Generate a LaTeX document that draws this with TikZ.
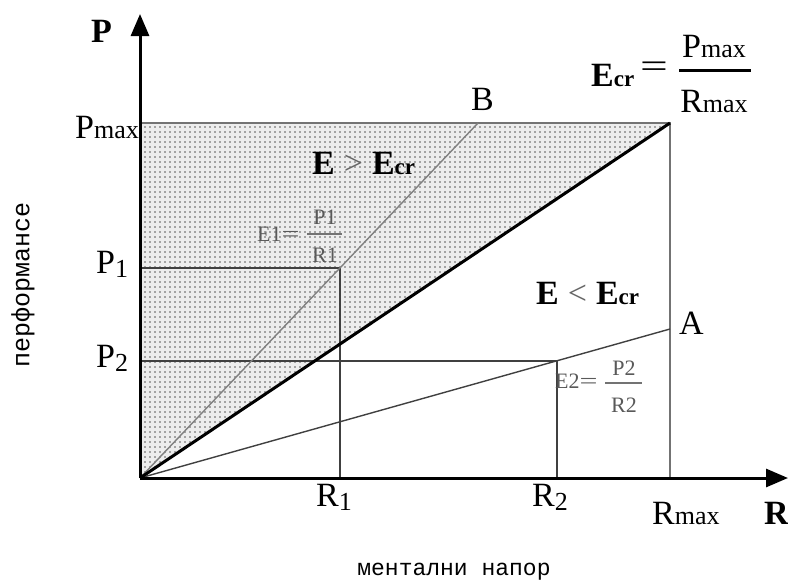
\documentclass[tikz,border=0pt]{standalone}
\usepackage{fontspec}
\setmainfont{Liberation Serif}
\newfontfamily\cyrmono{Liberation Mono}
\usetikzlibrary{patterns.meta,arrows.meta}
\newcommand\sbs[1]{{\fontsize{26}{26}\selectfont #1}}
\newcommand\sbc[1]{{\fontsize{23}{23}\selectfont #1}}
\newcommand\sbl[1]{\raisebox{-4pt}{\fontsize{26}{26}\selectfont #1}}
\newcommand\weq{\scalebox{1.45}[1]{=}}
\begin{document}
\begin{tikzpicture}[x=1pt,y=-1pt,
 lbl/.style={inner sep=0pt, font=\fontsize{34}{34}\selectfont},
 bl/.style={inner sep=0pt, font=\fontsize{34}{34}\selectfont\bfseries},
 fr/.style={inner sep=0pt, text=black!65, font=\fontsize{22}{22}\selectfont},
 cyr/.style={inner sep=0pt, font=\cyrmono\fontsize{23}{23}\selectfont},
 axis/.style={line width=3pt, -{Triangle[length=22pt,width=18pt]}},
 thinln/.style={line width=1.4pt, black!75},
 lightln/.style={line width=1.4pt, black!50},
 boxln/.style={line width=1.8pt, black!55},
 barln/.style={line width=1.4pt, black!55},
]
\useasboundingbox (0,0) rectangle (788,582);
\coordinate (O) at (140,478);
\coordinate (Ytop) at (140,14);
\coordinate (Xend) at (788,478);
\coordinate (TL) at (140,123);
\coordinate (TR) at (670,123);
\coordinate (BR) at (670,478);
\coordinate (E1) at (340,268);
\coordinate (E2) at (557,361);
\coordinate (P1) at (140,268);
\coordinate (P2) at (140,361);
\coordinate (R1) at (340,478);
\coordinate (R2) at (557,478);
\coordinate (A) at (670,329);
\coordinate (B) at (478,123);
% shaded region
\fill[gray!14] (O) -- (TL) -- (TR) -- cycle;
\fill[pattern={Dots[distance=5pt,radius=0.8pt]}, pattern color=black!65] (O) -- (TL) -- (TR) -- cycle;
% lines
\draw[boxln] (TL) -- (TR) -- (BR);
\draw[thinln] (P1) -- (E1) -- (R1);
\draw[thinln] (P2) -- (E2) -- (R2);
\draw[lightln] (O) -- (B);
\draw[thinln] (O) -- (A);
\draw[line width=3pt] (O) -- (TR);
\draw[axis] (O) -- (Ytop);
\draw[axis] (O) -- (Xend);
% axis labels
\node[bl, anchor=base west] (lP) at (91,42) {P};
\node[bl, anchor=base west] (lR) at (764,524) {R};
\node[lbl, anchor=base east] (lPmax) at (139,138) {P\sbs{max}};
\node[lbl, anchor=base west] (lP1) at (96,273) {P\sbl{1}};
\node[lbl, anchor=base west] (lP2) at (96,367) {P\sbl{2}};
\node[lbl, anchor=base west] (lR1) at (316,506) {R\sbl{1}};
\node[lbl, anchor=base west] (lR2) at (532,506) {R\sbl{2}};
\node[lbl, anchor=base west] (lRmax) at (652,524) {R\sbs{max}};
\node[lbl, anchor=base west] (lB) at (471,110) {B};
\node[lbl, anchor=base west] (lA) at (679,334) {A};
% Ecr formula
\node[bl, anchor=base west] (ecr) at (591,86) {E\sbc{cr}};
\node[lbl] (eq) at (654,70) {\weq};
\coordinate (bar0a) at (679,70);
\coordinate (bar0b) at (751,70);
\draw[line width=3pt] (bar0a) -- (bar0b);
\node[lbl, anchor=base] (num0) at (714,57) {P\sbs{max}};
\node[lbl, anchor=base] (den0) at (714,112) {R\sbs{max}};
% regions
\node[bl, anchor=base west] (gt) at (312,174) {E\hspace{9pt}{\mdseries\color{black!60}>}\hspace{9pt}E\sbc{cr}};
\node[bl, anchor=base west] (lt) at (536,304) {E\hspace{9pt}{\mdseries\color{black!60}<}\hspace{9pt}E\sbc{cr}};
% E1
\node[fr, anchor=base west] (e1) at (257,241) {E1\weq};
\coordinate (bar1a) at (307,234);
\coordinate (bar1b) at (342,234);
\draw[barln] (bar1a) -- (bar1b);
\node[fr, anchor=base] (n1) at (325,224) {P1};
\node[fr, anchor=base] (d1) at (325,262) {R1};
% E2
\node[fr, anchor=base west] (e2) at (555,388) {E2\weq};
\coordinate (bar2a) at (605,383);
\coordinate (bar2b) at (642,383);
\draw[barln] (bar2a) -- (bar2b);
\node[fr, anchor=base] (n2) at (624,375) {P2};
\node[fr, anchor=base] (d2) at (624,412) {R2};
% axis titles
\node[cyr] (xt) at (454,572) {ментални напор};
\node[cyr, rotate=90, font=\cyrmono\fontsize{25}{25}\selectfont] (yt) at (23,285) {перформансе};
\end{tikzpicture}
\end{document}
